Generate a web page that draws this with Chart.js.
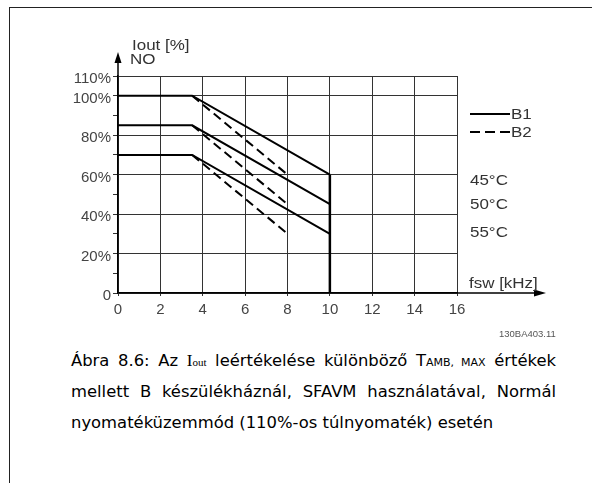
<!DOCTYPE html>
<html lang="hu">

<head>
    <meta charset="UTF-8">
    <script src="https://cdn.jsdelivr.net/npm/chart.js"></script>
    <title>Iout leértékelés</title>
    <style>
        body { margin: 0; background: #fff; }
        .lap { position: relative; width: 592px; height: 483px; overflow: hidden; }
        .keret { position: absolute; left: 9px; top: 7px; width: 600px; height: 500px; border-left: 1px solid #222; border-top: 1px solid #222; }
        #grafikon { position: absolute; left: 0; top: 0; }
        .felirat { position: absolute; font-family: "Liberation Sans", Arial, sans-serif; font-size: 14.5px; color: #333; line-height: 16px; white-space: nowrap; transform: scaleX(1.17); transform-origin: left center; }
        .vonal { position: absolute; width: 40px; height: 0; border-top: 2px solid #000; }
        .szagg { border-top: none; height: 2px; background: repeating-linear-gradient(90deg, #000 0 10px, transparent 10px 15px); }
        .kod { font-size: 9.5px; transform: none; color: #555; }
        .abra { position: absolute; left: 71px; width: 485px; font-family: Tahoma, "DejaVu Sans", sans-serif; font-size: 16.4px; color: #000; }
        .abra div { height: 31px; line-height: 31px; white-space: nowrap; }
        .sorkizart { text-align: justify; text-align-last: justify; white-space: normal !important; }
        .sub { font-size: 11px; }
        .serif { font-family: "Liberation Serif", serif; font-size: 17px; }
    </style>
</head>

<body>
    <div class="lap">
        <div class="keret"></div>
        <canvas id="grafikon" width="592" height="330"></canvas>

        <div class="felirat" style="left:132px; top:37px;">Iout [%]</div>
        <div class="felirat" style="left:130px; top:51px;">NO</div>

        <div class="vonal" style="left:470px; top:113px;"></div>
        <div class="felirat" style="left:511px; top:106px;">B1</div>
        <div class="vonal szagg" style="left:470px; top:131px;"></div>
        <div class="felirat" style="left:511px; top:124px;">B2</div>

        <div class="felirat" style="left:470px; top:172px;">45°C</div>
        <div class="felirat" style="left:470px; top:196px;">50°C</div>
        <div class="felirat" style="left:470px; top:224px;">55°C</div>
        <div class="felirat" style="left:469px; top:275px;">fsw [kHz]</div>

        <div class="felirat kod" style="left:499px; top:326px;">130BA403.11</div>

        <div class="abra" style="top:345px;">
            <div class="sorkizart">Ábra 8.6: Az <span class="serif">I<span class="sub">out</span></span> leértékelése különböző T<span class="sub">AMB, MAX</span> értékek</div>
            <div class="sorkizart">mellett B készülékháznál, SFAVM használatával, Normál</div>
            <div>nyomatéküzemmód (110%-os túlnyomaték) esetén</div>
        </div>
    </div>
</body>

</html>
<script>
    // B1 (folytonos) görbék
    var frekB1 = [0, 3.5, 10];
    var b1_45 = [100, 100, 60];
    var b1_50 = [85, 85, 45];
    var b1_55 = [70, 70, 30];

    // B2 (szaggatott) görbék
    var frekB2 = [3.5, 8];
    var b2_45 = [100, 60];
    var b2_50 = [85, 45];
    var b2_55 = [70, 30];

    // függőleges levágás 10 kHz-nél
    var levagX = [10, 10];
    var levagY = [60, 0];

    var xTickek = [0, 2, 4, 6, 8, 10, 12, 14, 16];
    var yTickek = [0, 10, 20, 30, 40, 50, 60, 70, 80, 90, 100, 110];
    var yKis = [10, 30, 50, 70, 90];

    function pontok(xs, ys) {
        var p = [];
        for (let i = 0; i < xs.length; i++) {
            p.push({ x: xs[i], y: ys[i] });
        }
        return p;
    }

    function gorbe(xs, ys, szagg, vastag) {
        return {
            data: pontok(xs, ys),
            borderColor: '#000',
            borderWidth: vastag || 2,
            borderDash: szagg ? [9, 5] : [],
            pointRadius: 0,
            fill: false,
            tension: 0
        };
    }

    // tengely-nyilak
    const nyilak = {
        id: 'nyilak',
        afterDraw(chart) {
            const c = chart.ctx;
            const a = chart.chartArea;
            c.save();
            c.strokeStyle = '#000';
            c.fillStyle = '#000';
            c.lineWidth = 1.5;
            c.beginPath();
            c.moveTo(a.left, a.top);
            c.lineTo(a.left, 60);
            c.moveTo(a.right, a.bottom);
            c.lineTo(536, a.bottom);
            c.stroke();
            c.beginPath();
            c.moveTo(a.left, 52);
            c.lineTo(a.left - 3.5, 63);
            c.lineTo(a.left + 3.5, 63);
            c.closePath();
            c.fill();
            c.beginPath();
            c.moveTo(546, a.bottom);
            c.lineTo(534, a.bottom - 3.5);
            c.lineTo(534, a.bottom + 3.5);
            c.closePath();
            c.fill();
            c.restore();
        }
    };

    var betu = { family: '"Liberation Sans", Arial, sans-serif', size: 15 };

    new Chart(document.getElementById('grafikon'), {
        type: 'line',
        data: {
            datasets: [
                gorbe(frekB1, b1_45, false),
                gorbe(frekB1, b1_50, false),
                gorbe(frekB1, b1_55, false),
                gorbe(frekB2, b2_45, true),
                gorbe(frekB2, b2_50, true),
                gorbe(frekB2, b2_55, true),
                gorbe(levagX, levagY, false, 2.5)
            ]
        },
        options: {
            responsive: false,
            animation: false,
            layout: { padding: { left: 0, top: 76, right: 135, bottom: 12 } },
            plugins: { legend: { display: false }, tooltip: { enabled: false } },
            scales: {
                x: {
                    type: 'linear',
                    min: 0,
                    max: 16,
                    afterBuildTicks: function (s) {
                        s.ticks = xTickek.map(v => ({ value: v }));
                    },
                    afterFit: function (s) { s.height = 25; },
                    ticks: { font: betu, color: '#444', padding: 5, maxRotation: 0, autoSkip: false },
                    grid: { color: '#333', lineWidth: 1, tickLength: 3 },
                    border: { color: '#000', width: 1.5 }
                },
                y: {
                    min: 0,
                    max: 110,
                    afterBuildTicks: function (s) {
                        s.ticks = yTickek.map(v => ({ value: v }));
                    },
                    afterFit: function (s) { s.width = 118; },
                    ticks: {
                        font: betu,
                        color: '#444',
                        padding: 2,
                        labelOffset: 3,
                        autoSkip: false,
                        callback: function (v) {
                            if (yKis.indexOf(v) >= 0) return '';
                            return v === 0 ? '0' : v + '%';
                        }
                    },
                    grid: {
                        color: function (ctx) {
                            return yKis.indexOf(ctx.tick.value) >= 0 ? 'rgba(0,0,0,0)' : '#333';
                        },
                        tickColor: '#333',
                        lineWidth: 1,
                        tickLength: 5
                    },
                    border: { color: '#000', width: 1.5 }
                }
            }
        },
        plugins: [nyilak]
    });
</script>
